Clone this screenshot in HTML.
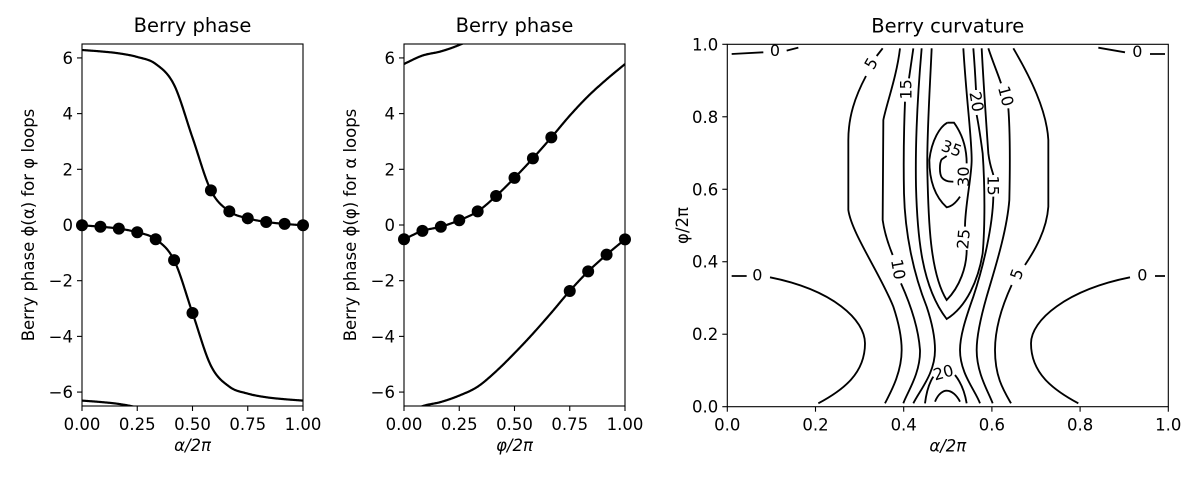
<!DOCTYPE html>
<html><head><meta charset="utf-8"><style>
html,body{margin:0;background:#fff;width:1200px;height:480px;overflow:hidden}
svg{display:block}
text{font-family:"DejaVu Sans","Liberation Sans",sans-serif;fill:#000}
</style></head><body>
<svg id="s" width="1200" height="480" xmlns="http://www.w3.org/2000/svg">
<defs>
<clipPath id="c1"><rect x="82" y="44" width="221" height="362"/></clipPath>
<clipPath id="c2"><rect x="404" y="44" width="221" height="362"/></clipPath>
</defs>
<g transform="translate(700,20) scale(0.3333333)" fill="none" stroke="#000" stroke-width="5.5" stroke-linecap="butt">
<path d="M95,102 L190,97 M260,92 L295,83"/>
<path d="M1195,83 L1275,97 M1350,102 L1395,102"/>
<path d="M95,768 L140,768 M210,772 C400,810 495,900 495,970 C495,1060 430,1110 355,1150"/>
<path d="M1395,768 L1365,768 M1290,772 C1100,810 993,900 993,970 C993,1060 1060,1110 1135,1150"/>
<path d="M548,85 L530,108 M498,168 C465,230 445,290 445,360 L445,570 C455,640 540,760 580,860 C600,920 605,960 605,990 C605,1060 570,1120 555,1150"/>
<path d="M940,85 C990,170 1040,270 1045,360 L1045,560 C1040,630 1005,690 975,735 M935,795 C905,860 885,930 885,990 C885,1070 910,1110 933,1150"/>
<path d="M600,85 C590,170 560,250 550,300 L548,600 C555,650 572,690 578,705 M603,790 C630,850 655,920 660,990 C662,1060 620,1120 610,1150"/>
<path d="M865,85 C880,130 895,165 903,190 M925,265 C930,330 930,450 928,540 C920,640 880,760 860,830 C840,900 830,950 830,990 C830,1060 865,1115 878,1150"/>
<path d="M640,85 L627,175 M615,245 C612,320 610,420 612,520 C615,640 640,760 680,860 C700,920 705,960 705,990 C705,1060 660,1110 640,1150"/>
<path d="M845,85 C850,180 858,300 865,400 C870,440 878,455 880,465 M880,530 C878,620 850,740 820,830 C795,900 780,950 780,990 C780,1060 825,1110 840,1150"/>
<path d="M665,85 C655,200 645,350 648,500 C652,650 665,800 740,897 C800,860 835,780 848,700 C855,620 855,500 848,400 C840,340 833,300 830,285 M828,210 C825,150 822,110 820,85"/>
<path d="M695,85 C690,200 680,350 682,450 C685,600 690,760 740,840 C780,800 800,740 800,690 M795,620 C795,560 815,470 815,420 C815,350 800,250 790,85"/>
<path d="M742,308 C720,320 695,360 688,420 C688,480 705,530 740,562 C755,560 770,545 780,530 M800,430 C800,380 785,340 762,308 L742,308"/>
<path d="M740,408 L725,418 C718,430 718,460 725,472 C735,485 750,485 760,485"/>
<path d="M675,1150 C680,1110 690,1085 700,1070 M765,1065 C785,1090 795,1120 800,1150"/>
<path d="M705,1145 C715,1120 730,1112 740,1112 C755,1112 770,1125 780,1145"/>
</g>
<g transform="translate(700,20) scale(0.3333333)" font-size="48" text-anchor="middle">
<text x="225" y="108">0</text>
<text x="1312" y="111">0</text>
<text x="172" y="781">0</text>
<text x="1327" y="781">0</text>
<text transform="translate(513,130) rotate(-60)" y="17">5</text>
<text transform="translate(950,762) rotate(-70)" y="17">5</text>
<text transform="translate(595,748) rotate(80)" y="17">10</text>
<text transform="translate(918,228) rotate(75)" y="17">10</text>
<text transform="translate(617,208) rotate(-90)" y="17">15</text>
<text transform="translate(880,497) rotate(90)" y="17">15</text>
<text transform="translate(830,245) rotate(80)" y="17">20</text>
<text transform="translate(730,1057) rotate(-15)" y="17">20</text>
<text transform="translate(790,657) rotate(-85)" y="17">25</text>
<text transform="translate(790,470) rotate(-90)" y="17">30</text>
<text transform="translate(755,385) rotate(20)" y="17">35</text>
</g>
<g id="dyn"></g>
</svg>
<script>
var NS="http://www.w3.org/2000/svg",g=document.getElementById("dyn");
function el(t,a,txt){var e=document.createElementNS(NS,t);for(var k in a)e.setAttribute(k,a[k]);if(txt!=null)e.textContent=txt;g.appendChild(e);return e;}
function spl(pts){return function(p){var s=p*12,i=Math.min(11,Math.floor(s)),t=s-i;var p1=pts[i],p2=pts[i+1];var p0=i>0?pts[i-1]:2*p1-p2,p3=i<11?pts[i+2]:2*p2-p1;
return 0.5*((2*p1)+(-p0+p2)*t+(2*p0-5*p1+4*p2-p3)*t*t+(-p0+3*p1-3*p2+p3)*t*t*t);};}
var L=spl([0,-0.05,-0.12,-0.25,-0.5,-1.25,-3.1416,-5.033,-5.783,-6.033,-6.163,-6.233,-6.2832]);
var G=spl([-0.5,-0.2,-0.05,0.18,0.5,1.05,1.7,2.4,3.15,3.93,4.63,5.23,5.78]);
var TF=16.5;
function axes(x0,y0,w,h,xmin,xmax,ymin,ymax,xt,yt,xf,yf,title,xl,yl,yx){
 el("rect",{x:x0,y:y0,width:w,height:h,fill:"none",stroke:"#000","stroke-width":1.1});
 xt.forEach(function(v){var x=x0+(v-xmin)/(xmax-xmin)*w;el("line",{x1:x,x2:x,y1:y0+h,y2:y0+h+5,stroke:"#000","stroke-width":1.1});el("text",{x:x,y:y0+h+24,"font-size":TF,"text-anchor":"middle"},xf(v));});
 yt.forEach(function(v){var y=y0+h-(v-ymin)/(ymax-ymin)*h;el("line",{x1:x0,x2:x0-5,y1:y,y2:y,stroke:"#000","stroke-width":1.1});el("text",{x:x0-9,y:y+6,"font-size":TF,"text-anchor":"end"},yf(v));});
 el("text",{x:x0+w/2,y:y0-12,"font-size":19.5,"text-anchor":"middle"},title);
 el("text",{x:x0+w/2,y:y0+h+45,"font-size":TF,"text-anchor":"middle","font-style":"italic"},xl);
 el("text",{transform:"translate("+yx+","+(y0+h/2)+") rotate(-90)","font-size":TF,"text-anchor":"middle"},yl);
}
var pt=[-6,-4,-2,0,2,4,6],qt=[0,0.25,0.5,0.75,1];
function mf(v){return v<0?"\u2212"+(-v):""+v;}
axes(82,44,221,362,0,1,-6.5,6.5,qt,pt,function(v){return v.toFixed(2)},mf,"Berry phase","α/2π","Berry phase ϕ(α) for φ loops",34);
axes(404,44,221,362,0,1,-6.5,6.5,qt,pt,function(v){return v.toFixed(2)},mf,"Berry phase","φ/2π","Berry phase ϕ(φ) for α loops",356);
axes(727.3,44.3,441,362.4,0,1,0,1,[0,.2,.4,.6,.8,1],[0,.2,.4,.6,.8,1],function(v){return v.toFixed(1)},function(v){return v.toFixed(1)},"Berry curvature","α/2π","φ/2π",688);
function curve(x0,f,off,clip){var d="";for(var i=0;i<=400;i++){var a=i/400,v=f(a)+off;d+=(i?"L":"M")+(x0+a*221).toFixed(2)+","+(225.3-v*27.9).toFixed(2);}
 el("path",{d:d,fill:"none",stroke:"#000","stroke-width":2.2,"clip-path":"url(#"+clip+")"});}
[-1,0,1].forEach(function(k){curve(82,L,k*2*Math.PI,"c1");curve(404,G,k*2*Math.PI,"c2");});
for(var k=0;k<=12;k++){var a=k/12,v=L(a);if(k>6)v+=2*Math.PI;el("circle",{cx:82+a*221,cy:225.3-v*27.9,r:6,fill:"#000"});
 var w=G(a);if(k>8)w-=2*Math.PI;el("circle",{cx:404+a*221,cy:225.3-w*27.9,r:6,fill:"#000"});}
</script>
</body></html>
